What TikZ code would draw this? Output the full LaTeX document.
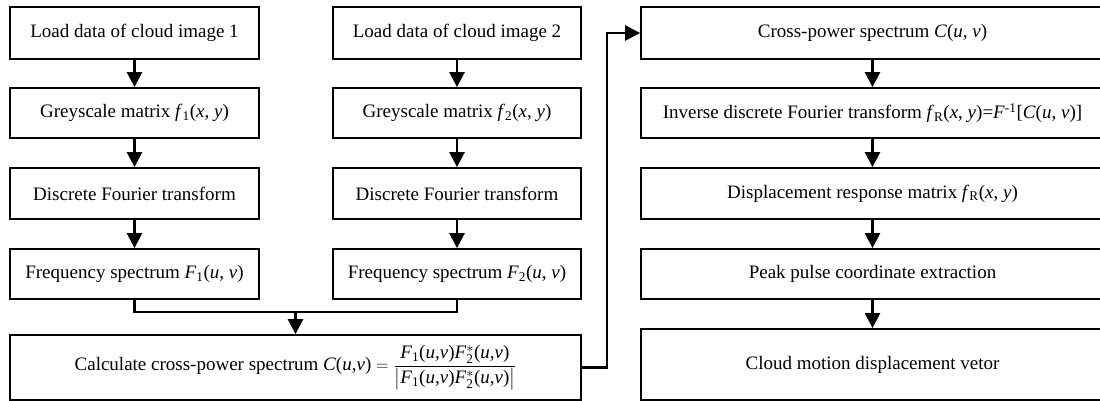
\documentclass[tikz,border=0pt]{standalone}
\usepackage{fontspec}
\setmainfont{Liberation Serif}
\usepackage{amsmath}
\usetikzlibrary{arrows.meta}

% italic variables and subscripts in running text
\newcommand{\vi}[1]{\textit{#1}}
\newcommand{\lowsub}[1]{\textsubscript{#1}}
% product F1(u,v) F2*(u,v) used in the cross-power formula
\newcommand{\Fprod}{\vi{F}\lowsub{1}(\vi{u},\vi{v})\vi{F}$^{*}_{\text{2}}$(\vi{u},\vi{v})}

\tikzset{
  box/.style={draw, line width=1.8pt, inner sep=0pt, align=center,
              font=\fontsize{19}{23}\selectfont},
  conn/.style={line width=2.6pt, -{Triangle[length=15pt,width=15pt]}},
  wire/.style={line width=2.6pt},
}

\begin{document}
\begin{tikzpicture}[x=1pt,y=-1pt]
  \path[clip] (0,0) rectangle (1100,401);
  \fill[white] (0,0) rectangle (1100,401);

  % left branch: image 1
  \node[box, minimum width=249pt, minimum height=52pt] (A1) at (134.5,33)  {Load data of cloud image 1};
  \node[box, minimum width=249pt, minimum height=50pt] (A2) at (134.5,113) {Greyscale matrix \vi{f}\lowsub{1}(\vi{x}, \vi{y})};
  \node[box, minimum width=249pt, minimum height=51pt] (A3) at (134.5,193.5) {Discrete Fourier transform};
  \node[box, minimum width=249pt, minimum height=50pt] (A4) at (134.5,274) {Frequency spectrum \vi{F}\lowsub{1}(\vi{u}, \vi{v})};

  % middle branch: image 2
  \node[box, minimum width=248pt, minimum height=52pt] (B1) at (457,33)  {Load data of cloud image 2};
  \node[box, minimum width=248pt, minimum height=50pt] (B2) at (457,113) {Greyscale matrix \vi{f}\lowsub{2}(\vi{x}, \vi{y})};
  \node[box, minimum width=248pt, minimum height=51pt] (B3) at (457,193.5) {Discrete Fourier transform};
  \node[box, minimum width=248pt, minimum height=50pt] (B4) at (457,274) {Frequency spectrum \vi{F}\lowsub{2}(\vi{u}, \vi{v})};

  % combined cross-power step
  \node[box, minimum width=571pt, minimum height=65pt] (calc) at (295.5,367.5)
    {Calculate cross-power spectrum
     $\text{\vi{C}(\vi{u},\vi{v})} = \dfrac{\text{\Fprod}}{\left|\text{\Fprod}\right|}$};

  % right column
  \node[box, minimum width=463pt, minimum height=52pt] (C1) at (872.5,33)  {Cross-power spectrum \vi{C}(\vi{u}, \vi{v})};
  \node[box, minimum width=463pt, minimum height=50pt] (C2) at (872.5,113)
    {Inverse discrete Fourier transform \vi{f}\lowsub{R}(\vi{x}, \vi{y})=\vi{F}\textsuperscript{-1}[\vi{C}(\vi{u}, \vi{v})]};
  \node[box, minimum width=463pt, minimum height=51pt] (C3) at (872.5,193.5) {Displacement response matrix \vi{f}\lowsub{R}(\vi{x}, \vi{y})};
  \node[box, minimum width=463pt, minimum height=50pt] (C4) at (872.5,274) {Peak pulse coordinate extraction};
  \node[box, minimum width=463pt, minimum height=71pt] (C5) at (872.5,364.5) {Cloud motion displacement vetor};

  % vertical flow in each column
  \draw[conn] (A1) -- (A2);
  \draw[conn] (A2) -- (A3);
  \draw[conn] (A3) -- (A4);
  \draw[conn] (B1) -- (B2);
  \draw[conn] (B2) -- (B3);
  \draw[conn] (B3) -- (B4);
  \draw[conn] (C1) -- (C2);
  \draw[conn] (C2) -- (C3);
  \draw[conn] (C3) -- (C4);
  \draw[conn] (C4) -- (C5);

  % merge of both spectra into the cross-power step
  \path (calc.north) ++(0,-22) coordinate (j);
  \draw[wire] (A4.south) |- (j) -| (B4.south);
  \draw[conn] (j) -- (calc.north);

  % feed of the cross-power result to the right column
  \coordinate (k) at (607,0);
  \draw[conn] (calc.east) -| (k |- C1.west) -- (C1.west);
\end{tikzpicture}
\end{document}
